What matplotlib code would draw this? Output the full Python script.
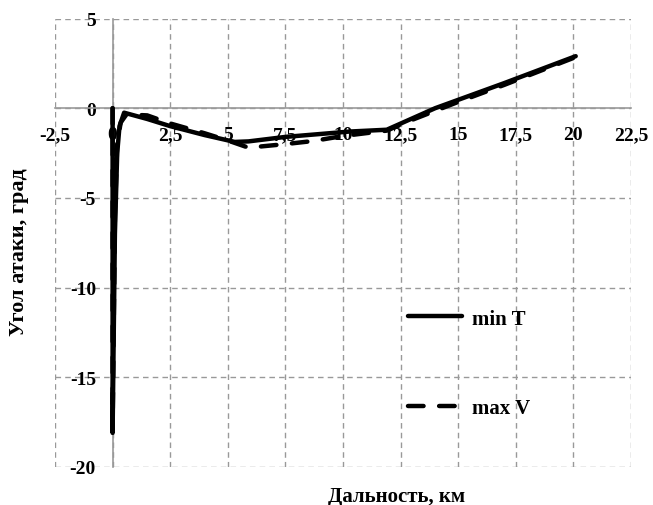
import matplotlib
matplotlib.use("Agg")
import matplotlib.pyplot as plt

# Data
minT_x = [0, 0.0, 0.1, 0.2, 0.3, 0.5, 1.5, 2.5, 4.0, 5.3, 5.9, 7.5, 10.3, 11.9, 14.0, 17.0, 20.1]
minT_y = [0, -18.1, -7.0, -2.5, -1.0, -0.25, -0.6, -1.0, -1.5, -1.88, -1.85, -1.6, -1.3, -1.2, 0.0, 1.4, 2.9]

maxV_x = [0, 0.0, 0.1, 0.2, 0.35, 0.6, 1.5, 2.5, 4.0, 5.0, 5.9, 7.5, 8.7, 10.0, 11.9, 13.0, 15.0, 17.0, 20.0]
maxV_y = [0, -17.9, -6.0, -2.0, -0.8, -0.35, -0.4, -0.85, -1.4, -1.8, -2.2, -2.0, -1.83, -1.55, -1.25, -0.65, 0.35, 1.3, 2.8]

labels = ["min T", "max V"]
x_ticks = [-2.5, 0, 2.5, 5, 7.5, 10, 12.5, 15, 17.5, 20, 22.5]
y_ticks = [-20, -15, -10, -5, 0, 5]
x_label = "Дальность, км"
y_label = "Угол атаки, град"

plt.rcParams['font.family'] = ['Liberation Serif', 'DejaVu Serif']
plt.rcParams['font.weight'] = 'bold'
TFS = 14
LFS = 15

fig = plt.figure(figsize=(6.53, 5.06), dpi=100)
ax = fig.add_axes([55/653, 1-468/506, 576/653, 448.5/506])

ax.set_xlim(-2.5, 22.5)
ax.set_ylim(-20, 5)
ax.tick_params(axis='x', length=0, pad=13, labelsize=TFS)
ax.tick_params(axis='y', length=0, pad=12, labelsize=TFS)
ax.set_xticks(x_ticks)
ax.set_yticks(y_ticks)
fmt = lambda v: (f"{v:g}").replace(".", ",")
ax.set_xticklabels([fmt(v) for v in x_ticks])
ax.set_yticklabels([fmt(v) for v in y_ticks])
for t in ax.get_xticklabels() + ax.get_yticklabels():
    t.set_fontweight('bold')

ax.grid(True, color='#999999', linestyle=(0, (4, 3)), linewidth=1.0)
ax.set_axisbelow(True)
for s in ['top', 'right']:
    ax.spines[s].set_visible(False)
ax.spines['left'].set_position(('data', 0))
ax.spines['bottom'].set_position(('data', 0))
for s in ['left', 'bottom']:
    ax.spines[s].set_color('#999999')
    ax.spines[s].set_linewidth(1.2)

l1, = ax.plot(minT_x, minT_y, color='black', linewidth=3.2, solid_joinstyle='round',
              solid_capstyle='round', label=labels[0], zorder=3)
l2, = ax.plot(maxV_x, maxV_y, color='black', linewidth=3.2, linestyle=(0, (3.5, 3.5)),
              dash_capstyle='round', label=labels[1], zorder=3)

leg = ax.legend(handles=[l1, l2], loc='upper left', bbox_to_anchor=(0.613, 0.353),
                frameon=False, handlelength=2.6, handletextpad=0.45,
                labelspacing=3.35, borderpad=0, borderaxespad=0,
                prop={'family': 'Liberation Serif', 'weight': 'bold', 'size': LFS})

fig.text(397/653, 1-497/506, x_label, ha='center', va='center', fontsize=LFS, fontweight='bold')
fig.text(19.5/653, 1-252/506, y_label, ha='center', va='center', rotation=90, fontsize=16, fontweight='bold')

fig.savefig("out.png", dpi=100)
